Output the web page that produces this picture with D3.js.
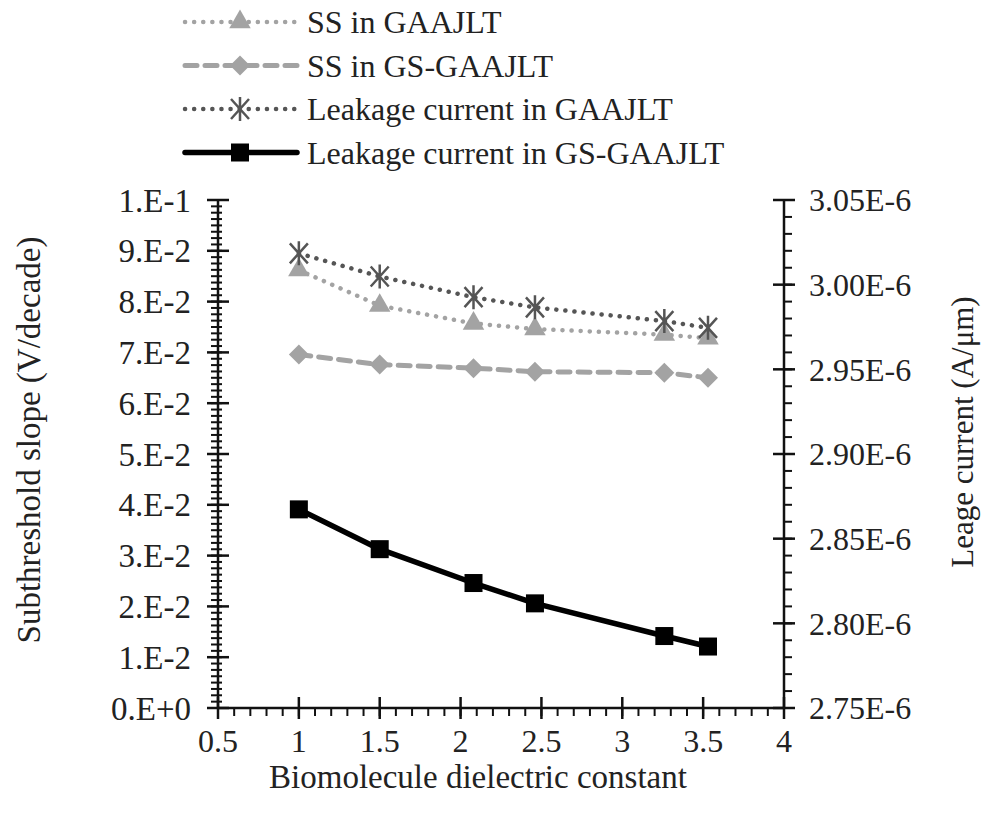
<html>
<head>
    <title>Subthreshold slope and leakage current</title>
    <script src="https://d3js.org/d3.v7.min.js"></script>
</head>
<body style="margin:0">
    <div id="chart"></div>
    <script>
        // dielectric constant of the biomolecule (x values)
        var kValues = [1, 1.5, 2.08, 2.46, 3.26, 3.53];

        // subthreshold slope, V/decade (left axis)
        var ssGAA = [0.0862, 0.0792, 0.0757, 0.0746, 0.0735, 0.0728];
        var ssGS = [0.0696, 0.0676, 0.0669, 0.0662, 0.0660, 0.0650];

        // leakage current, A/um (right axis)
        var leakGAA = [3.0185e-6, 3.0048e-6, 2.9926e-6, 2.9866e-6, 2.9785e-6, 2.9745e-6];
        var leakGS = [2.8673e-6, 2.8438e-6, 2.8238e-6, 2.8118e-6, 2.7925e-6, 2.7863e-6];

        // tick labels as printed on the chart
        var xTicks = [0.5, 1, 1.5, 2, 2.5, 3, 3.5, 4];
        var leftTicks = [0, 0.01, 0.02, 0.03, 0.04, 0.05, 0.06, 0.07, 0.08, 0.09, 0.1];
        var leftLabels = ["0.E+0", "1.E-2", "2.E-2", "3.E-2", "4.E-2", "5.E-2", "6.E-2", "7.E-2", "8.E-2", "9.E-2", "1.E-1"];
        var rightTicks = [2.75e-6, 2.80e-6, 2.85e-6, 2.90e-6, 2.95e-6, 3.00e-6, 3.05e-6];
        var rightLabels = ["2.75E-6", "2.80E-6", "2.85E-6", "2.90E-6", "2.95E-6", "3.00E-6", "3.05E-6"];

        var legendNames = ["SS in GAAJLT", "SS in GS-GAAJLT", "Leakage current in GAAJLT", "Leakage current in GS-GAAJLT"];

        var W = 982, H = 820;
        var plot = {left: 218, right: 784, top: 200, bottom: 708};
        var font = "\"Liberation Serif\"";
        var textColor = "#222";
        var axisColor = "#111";

        var svg = d3.select("#chart").append("svg")
            .attr("width", W)
            .attr("height", H);

        var x = d3.scaleLinear().domain([0.5, 4]).range([plot.left, plot.right]);
        var yL = d3.scaleLinear().domain([0, 0.1]).range([plot.bottom, plot.top]);
        var yR = d3.scaleLinear().domain([2.75e-6, 3.05e-6]).range([plot.bottom, plot.top]);

        // every text gets the serif face set directly
        function styleText(sel, size) {
            return sel.style("font-family", font).attr("font-size", size).attr("fill", textColor);
        }

        // series styles
        var series = [
            {name: legendNames[1], xs: kValues, ys: ssGS, y: yL, color: "#a3a3a3", width: 5, dash: "12 8", cap: "round", marker: "diamond"},
            {name: legendNames[0], xs: kValues, ys: ssGAA, y: yL, color: "#a3a3a3", width: 4.5, dash: "0.1 9", cap: "round", marker: "triangle"},
            {name: legendNames[2], xs: kValues, ys: leakGAA, y: yR, color: "#555", width: 4.5, dash: "0.1 9", cap: "round", marker: "star"},
            {name: legendNames[3], xs: kValues, ys: leakGS, y: yR, color: "#000", width: 5.5, dash: null, cap: "round", marker: "square"}
        ];

        function drawMarker(g, type, color) {
            if (type === "triangle") {
                g.append("path").attr("d", d3.symbol(d3.symbolTriangle, 200)()).attr("fill", color);
            } else if (type === "diamond") {
                g.append("path").attr("d", "M0,-10L10,0L0,10L-10,0Z").attr("fill", color);
            } else if (type === "square") {
                g.append("rect").attr("x", -9).attr("y", -9).attr("width", 18).attr("height", 18).attr("fill", color);
            } else if (type === "star") {
                g.append("path")
                    .attr("d", "M-9,-10L9,10M-9,10L9,-10M0,-12L0,12")
                    .attr("stroke", color).attr("stroke-width", 2.5).attr("fill", "none");
            }
        }

        // left axis
        var leftAxis = svg.append("g").attr("transform", "translate(" + plot.left + ",0)");
        leftAxis.append("line").attr("y1", plot.top).attr("y2", plot.bottom).attr("stroke", axisColor).attr("stroke-width", 2.5);
        leftAxis.selectAll(".minor").data(d3.range(0, 0.1001, 0.00125)).enter().append("line")
            .attr("x1", -7).attr("x2", 4)
            .attr("y1", function(d) { return yL(d); }).attr("y2", function(d) { return yL(d); })
            .attr("stroke", axisColor).attr("stroke-width", 2);
        leftAxis.selectAll(".major").data(leftTicks).enter().append("line")
            .attr("x1", -11).attr("x2", 11)
            .attr("y1", function(d) { return yL(d); }).attr("y2", function(d) { return yL(d); })
            .attr("stroke", axisColor).attr("stroke-width", 2.5);
        styleText(leftAxis.selectAll("text").data(leftTicks).enter().append("text")
            .attr("x", -27).attr("y", function(d) { return yL(d); })
            .attr("dy", "0.35em").attr("text-anchor", "end"), 33)
            .text(function(d, i) { return leftLabels[i]; });

        // right axis
        var rightAxis = svg.append("g").attr("transform", "translate(" + plot.right + ",0)");
        rightAxis.append("line").attr("y1", plot.top).attr("y2", plot.bottom).attr("stroke", axisColor).attr("stroke-width", 2.5);
        rightAxis.selectAll(".minor").data(d3.range(2.75e-6, 3.0501e-6, 0.01e-6)).enter().append("line")
            .attr("x1", 0).attr("x2", 8)
            .attr("y1", function(d) { return yR(d); }).attr("y2", function(d) { return yR(d); })
            .attr("stroke", axisColor).attr("stroke-width", 2);
        rightAxis.selectAll(".major").data(rightTicks).enter().append("line")
            .attr("x1", -11).attr("x2", 11)
            .attr("y1", function(d) { return yR(d); }).attr("y2", function(d) { return yR(d); })
            .attr("stroke", axisColor).attr("stroke-width", 2.5);
        styleText(rightAxis.selectAll("text").data(rightTicks).enter().append("text")
            .attr("x", 25).attr("y", function(d) { return yR(d); })
            .attr("dy", "0.35em"), 32)
            .text(function(d, i) { return rightLabels[i]; });

        // bottom axis
        var bottomAxis = svg.append("g").attr("transform", "translate(0," + plot.bottom + ")");
        bottomAxis.append("line").attr("x1", plot.left).attr("x2", plot.right).attr("stroke", axisColor).attr("stroke-width", 2.5);
        bottomAxis.selectAll(".minor").data(d3.range(0.5, 4.001, 0.1)).enter().append("line")
            .attr("y1", 0).attr("y2", 8)
            .attr("x1", function(d) { return x(d); }).attr("x2", function(d) { return x(d); })
            .attr("stroke", axisColor).attr("stroke-width", 2);
        bottomAxis.selectAll(".major").data(xTicks).enter().append("line")
            .attr("y1", -11).attr("y2", 11)
            .attr("x1", function(d) { return x(d); }).attr("x2", function(d) { return x(d); })
            .attr("stroke", axisColor).attr("stroke-width", 2.5);
        styleText(bottomAxis.selectAll("text").data(xTicks).enter().append("text")
            .attr("x", function(d) { return x(d); }).attr("y", 44)
            .attr("text-anchor", "middle"), 32)
            .text(function(d) { return d; });

        // axis titles
        styleText(svg.append("text")
            .attr("x", 478).attr("y", 788)
            .attr("text-anchor", "middle"), 33)
            .text("Biomolecule dielectric constant");
        styleText(svg.append("text")
            .attr("transform", "translate(40,440) rotate(-90)")
            .attr("text-anchor", "middle"), 33)
            .text("Subthreshold slope (V/decade)");
        styleText(svg.append("text")
            .attr("transform", "translate(973,432) rotate(-90)")
            .attr("text-anchor", "middle"), 31)
            .text("Leage current  (A/\u03bcm)");

        // data lines and markers
        series.forEach(function(s) {
            var pts = s.xs.map(function(v, i) { return [v, s.ys[i]]; });
            var line = d3.line().x(function(d) { return x(d[0]); }).y(function(d) { return s.y(d[1]); });
            svg.append("path")
                .datum(pts)
                .attr("d", line)
                .attr("fill", "none")
                .attr("stroke", s.color)
                .attr("stroke-width", s.width)
                .attr("stroke-linecap", s.cap)
                .attr("stroke-linejoin", "round")
                .attr("stroke-dasharray", s.dash);
            pts.forEach(function(p) {
                var g = svg.append("g").attr("transform", "translate(" + x(p[0]) + "," + s.y(p[1]) + ")");
                drawMarker(g, s.marker, s.color);
            });
        });

        // legend
        var legendOrder = [series[1], series[0], series[2], series[3]];
        var legend = svg.append("g");
        legendOrder.forEach(function(s, i) {
            var ly = 22 + i * 43.5;
            legend.append("line")
                .attr("x1", 185).attr("x2", 297)
                .attr("y1", ly).attr("y2", ly)
                .attr("stroke", s.color)
                .attr("stroke-width", s.width)
                .attr("stroke-linecap", s.cap)
                .attr("stroke-dasharray", s.dash);
            var g = legend.append("g").attr("transform", "translate(240," + ly + ")");
            drawMarker(g, s.marker, s.color);
            styleText(legend.append("text")
                .attr("x", 307).attr("y", ly)
                .attr("dy", "0.35em"), 32)
                .text(s.name);
        });
    </script>
</body>
</html>
